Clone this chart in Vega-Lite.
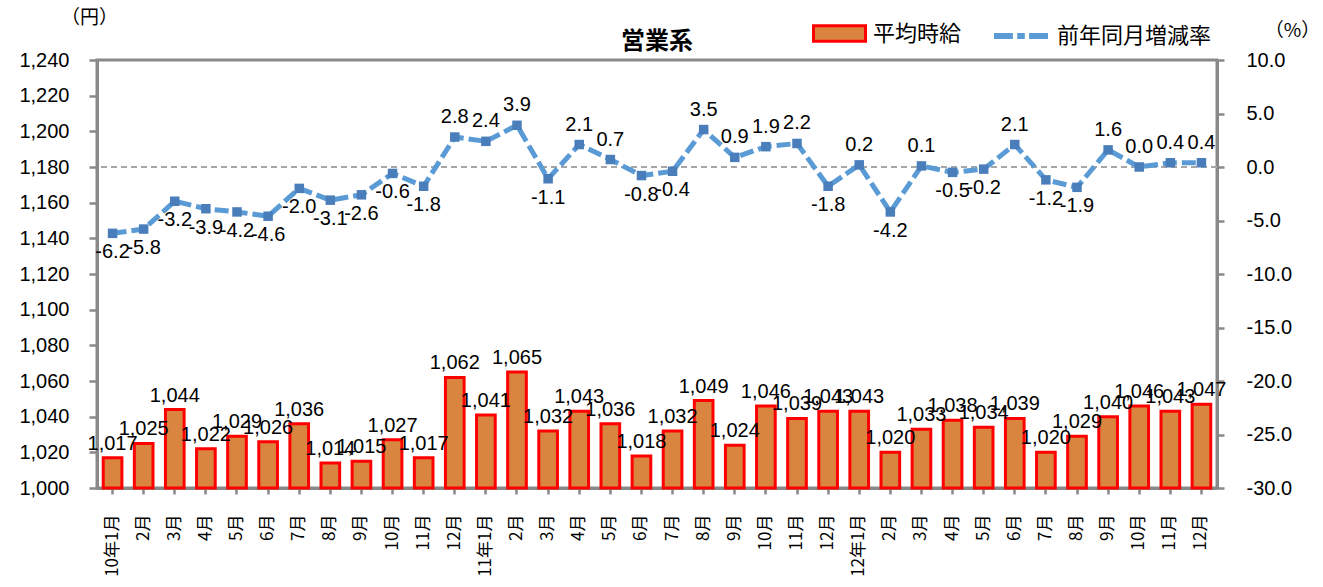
{
  "$schema": "https://vega.github.io/schema/vega-lite/v6.json",
  "width": 1120,
  "height": 428,
  "autosize": {"type": "none"},
  "padding": {"left": 97, "top": 60, "right": 106, "bottom": 99},
  "background": "white",
  "title": {"text": "営業系", "font": "Noto Sans CJK JP", "fontSize": 24, "fontWeight": "bold", "color": "black", "anchor": "middle", "baseline": "bottom", "offset": -72},
  "datasets": {
    "main": [
      {"m": "10年1月", "yen": 1017, "rate": -6.2},
      {"m": "2月", "yen": 1025, "rate": -5.8},
      {"m": "3月", "yen": 1044, "rate": -3.2},
      {"m": "4月", "yen": 1022, "rate": -3.9},
      {"m": "5月", "yen": 1029, "rate": -4.2},
      {"m": "6月", "yen": 1026, "rate": -4.6},
      {"m": "7月", "yen": 1036, "rate": -2.0},
      {"m": "8月", "yen": 1014, "rate": -3.1},
      {"m": "9月", "yen": 1015, "rate": -2.6},
      {"m": "10月", "yen": 1027, "rate": -0.6},
      {"m": "11月", "yen": 1017, "rate": -1.8},
      {"m": "12月", "yen": 1062, "rate": 2.8},
      {"m": "11年1月", "yen": 1041, "rate": 2.4},
      {"m": "2月\u200b", "yen": 1065, "rate": 3.9},
      {"m": "3月\u200b", "yen": 1032, "rate": -1.1},
      {"m": "4月\u200b", "yen": 1043, "rate": 2.1},
      {"m": "5月\u200b", "yen": 1036, "rate": 0.7},
      {"m": "6月\u200b", "yen": 1018, "rate": -0.8},
      {"m": "7月\u200b", "yen": 1032, "rate": -0.4},
      {"m": "8月\u200b", "yen": 1049, "rate": 3.5},
      {"m": "9月\u200b", "yen": 1024, "rate": 0.9},
      {"m": "10月\u200b", "yen": 1046, "rate": 1.9},
      {"m": "11月\u200b", "yen": 1039, "rate": 2.2},
      {"m": "12月\u200b", "yen": 1043, "rate": -1.8},
      {"m": "12年1月", "yen": 1043, "rate": 0.2},
      {"m": "2月\u200b\u200b", "yen": 1020, "rate": -4.2},
      {"m": "3月\u200b\u200b", "yen": 1033, "rate": 0.1},
      {"m": "4月\u200b\u200b", "yen": 1038, "rate": -0.5},
      {"m": "5月\u200b\u200b", "yen": 1034, "rate": -0.2},
      {"m": "6月\u200b\u200b", "yen": 1039, "rate": 2.1},
      {"m": "7月\u200b\u200b", "yen": 1020, "rate": -1.2},
      {"m": "8月\u200b\u200b", "yen": 1029, "rate": -1.9},
      {"m": "9月\u200b\u200b", "yen": 1040, "rate": 1.6},
      {"m": "10月\u200b\u200b", "yen": 1046, "rate": 0.0},
      {"m": "11月\u200b\u200b", "yen": 1043, "rate": 0.4},
      {"m": "12月\u200b\u200b", "yen": 1047, "rate": 0.4}
    ],
    "zeroline": [{"zero": 0}]
  },
  "layer": [
    {
      "data": {"name": "zeroline"},
      "mark": {"type": "rule", "color": "#A6A6A6", "strokeWidth": 2, "strokeDash": [6, 4]},
      "encoding": {"y": {"field": "zero", "type": "quantitative", "scale": {"domain": [-30, 10], "nice": false, "zero": false}, "axis": null}}
    },
    {
      "data": {"name": "main"},
      "mark": {"type": "bar", "stroke": "#FF0000", "strokeWidth": 3},
      "encoding": {
        "x": {
          "field": "m", "type": "nominal",
          "scale": {
            "domain": ["10年1月", "2月", "3月", "4月", "5月", "6月", "7月", "8月", "9月", "10月", "11月", "12月",
                       "11年1月", "2月\u200b", "3月\u200b", "4月\u200b", "5月\u200b", "6月\u200b", "7月\u200b", "8月\u200b", "9月\u200b", "10月\u200b", "11月\u200b", "12月\u200b",
                       "12年1月", "2月\u200b\u200b", "3月\u200b\u200b", "4月\u200b\u200b", "5月\u200b\u200b", "6月\u200b\u200b", "7月\u200b\u200b", "8月\u200b\u200b", "9月\u200b\u200b", "10月\u200b\u200b", "11月\u200b\u200b", "12月\u200b\u200b"],
            "paddingInner": 0.4, "paddingOuter": 0.2
          },
          "axis": {
            "title": null, "labelAngle": 270, "labelFontSize": 17,
            "labelFont": "Noto Sans CJK JP",
            "tickSize": 6, "labelPadding": 20
          }
        },
        "y": {
          "field": "yen", "type": "quantitative",
          "scale": {"domain": [1000, 1240], "nice": false, "zero": false},
          "axis": {
            "orient": "left",
            "values": [1000, 1020, 1040, 1060, 1080, 1100, 1120, 1140, 1160, 1180, 1200, 1220, 1240],
            "format": ",d", "labelFontSize": 20, "labelPadding": 20, "tickSize": 8,
            "title": "（円）", "titleAngle": 0, "titleX": -8, "titleY": -43,
            "titleAlign": "center", "titleBaseline": "middle", "titleFontSize": 19,
            "titleFontWeight": "normal", "titleFont": "Noto Sans CJK JP", "titleColor": "black"
          }
        },
        "y2": {"datum": 1000},
        "fill": {
          "datum": "平均時給", "type": "nominal",
          "scale": {"range": ["#D9843F"]},
          "legend": {
            "orient": "none", "legendX": 715, "legendY": -54, "direction": "horizontal",
            "title": null, "labelFontSize": 22, "labelFont": "Noto Sans CJK JP", "labelColor": "black",
            "symbolType": "M-1,-0.3H1V0.3H-1Z", "symbolSize": 2704, "symbolStrokeColor": "#FF0000",
            "symbolStrokeWidth": 3, "symbolOpacity": 1, "labelOffset": 6, "padding": 0
          }
        }
      }
    },
    {
      "data": {"name": "main"},
      "mark": {"type": "text", "baseline": "bottom", "dy": -4, "fontSize": 20, "font": "Liberation Sans", "color": "black"},
      "encoding": {
        "x": {"field": "m", "type": "nominal"},
        "y": {"field": "yen", "type": "quantitative", "scale": {"domain": [1000, 1240], "nice": false, "zero": false}, "axis": null},
        "text": {"field": "yen", "type": "quantitative", "format": ",d"}
      }
    },
    {
      "data": {"name": "main"},
      "mark": {"type": "line", "strokeWidth": 5, "strokeDash": [14, 5]},
      "encoding": {
        "x": {"field": "m", "type": "nominal"},
        "order": {"value": null},
        "y": {
          "field": "rate", "type": "quantitative",
          "scale": {"domain": [-30, 10], "nice": false, "zero": false},
          "axis": {
            "orient": "right",
            "values": [-30, -25, -20, -15, -10, -5, 0, 5, 10],
            "format": ".1f", "labelFontSize": 20, "labelPadding": 22, "tickSize": 7,
            "title": "（%）", "titleAngle": 0, "titleX": 75, "titleY": -30,
            "titleAlign": "center", "titleBaseline": "middle", "titleFontSize": 19,
            "titleFontWeight": "normal", "titleFont": "Noto Sans CJK JP", "titleColor": "black"
          }
        },
        "stroke": {
          "datum": "前年同月増減率", "type": "nominal",
          "scale": {"range": ["#5B9BD5"]},
          "legend": {
            "orient": "none", "legendX": 894, "legendY": -54, "direction": "horizontal",
            "title": null, "labelFontSize": 22, "labelFont": "Noto Sans CJK JP", "labelColor": "black",
            "symbolType": "M-1,0H-0.3 M-0.14,0H0.14 M0.3,0H1", "symbolSize": 2916,
            "symbolStrokeWidth": 6, "symbolOpacity": 1, "labelOffset": 6, "padding": 0
          }
        }
      }
    },
    {
      "data": {"name": "main"},
      "mark": {"type": "point", "shape": "square", "filled": true, "size": 90, "color": "#4A7EBB", "opacity": 1},
      "encoding": {
        "x": {"field": "m", "type": "nominal"},
        "y": {"field": "rate", "type": "quantitative", "scale": {"domain": [-30, 10], "nice": false, "zero": false}, "axis": null}
      }
    },
    {
      "data": {"name": "main"},
      "mark": {"type": "text", "baseline": "middle", "dy": -20, "fontSize": 20, "font": "Liberation Sans", "color": "black"},
      "encoding": {
        "x": {"field": "m", "type": "nominal"},
        "y": {"field": "rate", "type": "quantitative", "scale": {"domain": [-30, 10], "nice": false, "zero": false}, "axis": null},
        "text": {"condition": {"test": "datum.rate >= 0", "field": "rate", "type": "quantitative", "format": ".1f"}, "value": ""}
      }
    },
    {
      "data": {"name": "main"},
      "mark": {"type": "text", "baseline": "middle", "dy": 19, "fontSize": 20, "font": "Liberation Sans", "color": "black"},
      "encoding": {
        "x": {"field": "m", "type": "nominal"},
        "y": {"field": "rate", "type": "quantitative", "scale": {"domain": [-30, 10], "nice": false, "zero": false}, "axis": null},
        "text": {"condition": {"test": "datum.rate < 0", "field": "rate", "type": "quantitative", "format": ".1f"}, "value": ""}
      }
    }
  ],
  "resolve": {"scale": {"y": "independent"}},
  "config": {
    "view": {"stroke": "#898989", "strokeWidth": 3},
    "axis": {"domainColor": "#898989", "domainWidth": 3, "tickColor": "#898989", "tickWidth": 2.5, "labelColor": "black", "labelFont": "Liberation Sans", "grid": false},
    "locale": {"number": {"decimal": ".", "thousands": ",", "grouping": [3], "currency": ["$", ""], "minus": "-"}}
  }
}
